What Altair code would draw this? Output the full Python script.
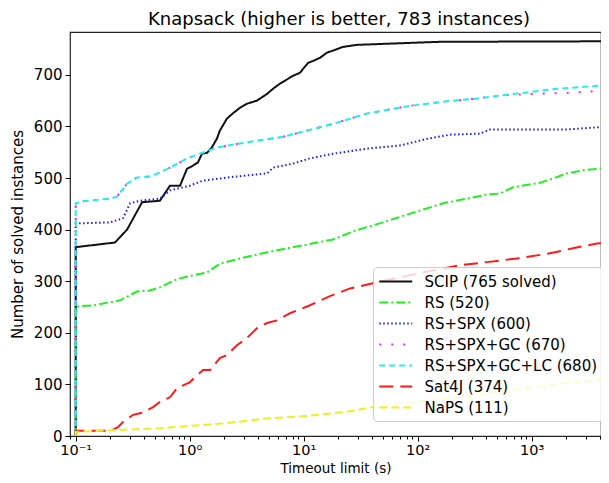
import altair as alt
import pandas as pd

series_names = ["SCIP (765 solved)", "RS (520)", "RS+SPX (600)", "RS+SPX+GC (670)",
                "RS+SPX+GC+LC (680)", "Sat4J (374)", "NaPS (111)"]
colors = ["#111111", "#22ee22", "#1a1aff", "#ff22ff", "#22eeee", "#ff1a1a", "#eeee22"]
dashes = [[1, 0], [9, 3, 2, 3], [1.5, 2.5], [2, 10], [6, 4], [14, 7], [8, 4]]

scip_t = [0.1, 0.1, 0.221, 0.282, 0.382, 0.548, 0.671, 0.822, 0.947, 1.03, 1.18, 1.28, 1.42, 1.56,
          1.73, 1.84, 2.12, 2.44, 2.76, 3.18, 3.89, 4.77, 5.38, 6.2, 8.05, 9.27, 10.9, 12.1, 13.9,
          16.0, 18.1, 22, 29, 50, 157, 4718]
scip_v = [0, 366, 375, 400, 453, 456, 485, 485, 518, 522, 530, 547, 549, 559,
          576, 592, 615, 627, 636, 644, 650, 663, 673, 683, 698, 704, 723, 727, 733,
          743, 747, 754, 758, 760, 764, 765]

rs_t = [0.1, 0.1, 0.142, 0.245, 0.345, 0.449, 0.548, 0.774, 1.0, 1.42, 1.84, 2.76, 4.77, 8.05,
        10.7, 18.1, 28.2, 49.6, 85.7, 105, 167, 271, 405, 527, 686, 1183, 1540, 2042, 2816, 4718]
rs_v = [0, 251, 253, 263, 280, 282, 288, 304, 310, 317, 334, 344, 356, 366,
        371, 381, 398, 414, 431, 437, 451, 460, 468, 470, 482, 491, 499, 509, 515, 520]

spx_t = [0.1, 0.1, 0.2, 0.26, 0.30, 0.367, 0.548, 0.671, 1.0, 1.31, 2.12, 3.18, 4.77, 5.38, 8.05,
         11.3, 18.1, 35.9, 70, 121, 192, 352, 431, 2042, 4718]
spx_v = [0, 412, 414, 422, 451, 456, 460, 476, 485, 495, 501, 505, 509, 520, 528,
         538, 547, 557, 563, 576, 584, 586, 594, 594, 600]

gc_t = [0.1, 0.1, 0.116, 0.2, 0.23, 0.282, 0.345, 0.449, 0.548, 0.671, 0.947, 1.23, 1.73, 2.76,
        4.14, 6.58, 9.86, 18.1, 35.9, 85.7, 167, 331, 527, 1027, 2042, 4140, 4718]
gc_v = [0, 451, 455, 460, 464, 489, 501, 503, 511, 520, 538, 547, 559, 567,
        573, 580, 590, 605, 625, 640, 648, 654, 660, 663, 665, 669, 670]

lc_t = [0.1, 0.1, 0.116, 0.2, 0.23, 0.282, 0.345, 0.449, 0.548, 0.671, 0.947, 1.23, 1.73, 2.76,
        4.14, 6.58, 9.86, 18.1, 35.9, 85.7, 167, 331, 527, 839, 1668, 3975, 4718]
lc_v = [0, 451, 455, 460, 464, 489, 501, 503, 511, 520, 538, 547, 559, 567,
        573, 580, 590, 605, 625, 640, 648, 654, 660, 665, 673, 679, 680]

sat_t = [0.1, 0.1, 0.181, 0.21, 0.235, 0.26, 0.318, 0.382, 0.477, 0.548, 0.671, 0.774, 1.0, 1.31,
         1.51, 1.84, 2.12, 2.60, 3.18, 3.89, 4.77, 5.84, 7.58, 10.7, 17.0, 25.5, 40.5, 70, 136,
         235, 405, 743, 1448, 2303, 3740, 4718]
sat_v = [0, 10, 10, 12, 17, 27, 41, 45, 56, 66, 75, 93, 104, 128,
         128, 151, 157, 176, 190, 209, 219, 224, 238, 251, 271, 286, 296, 308, 321,
         331, 337, 344, 354, 364, 373, 374]

naps_t = [0.1, 0.1, 0.2, 0.548, 1.07, 2.12, 3.59, 4.77, 10.7, 24.0, 40.5, 91, 250, 686, 1884,
          4580, 4718]
naps_v = [0, 8, 11, 15, 20, 25, 31, 34, 39, 47, 56, 66, 76, 89, 102, 110, 111]

x_major = [0.1, 1, 10, 100, 1000]
x_minor = [0.09, 0.2, 0.3, 0.4, 0.5, 0.6, 0.7, 0.8, 0.9, 2, 3, 4, 5, 6, 7, 8, 9,
           20, 30, 40, 50, 60, 70, 80, 90, 200, 300, 400, 500, 600, 700, 800, 900,
           2000, 3000, 4000]
y_ticks = [0, 100, 200, 300, 400, 500, 600, 700]

all_t = [scip_t, rs_t, spx_t, gc_t, lc_t, sat_t, naps_t]
all_v = [scip_v, rs_v, spx_v, gc_v, lc_v, sat_v, naps_v]
rows = []
for name, ts, vs in zip(series_names, all_t, all_v):
    for i, (t, v) in enumerate(zip(ts, vs)):
        rows.append({"series": name, "t": t, "v": v, "idx": i})
df = pd.DataFrame(rows)

FONT = "DejaVu Sans"
label_expr = ("datum.value == 0.1 ? '10⁻¹' : datum.value == 1 ? '10⁰' : "
              "datum.value == 10 ? '10¹' : datum.value == 100 ? '10²' : "
              "datum.value == 1000 ? '10³' : ''")
major_test = ("datum.value == 0.1 || datum.value == 1 || datum.value == 10 || "
              "datum.value == 100 || datum.value == 1000")

legend = alt.Legend(
    title=None, orient="none", legendX=303, legendY=235,
    labelFont=FONT, labelFontSize=15, labelColor="#000000", labelLimit=400,
    symbolType="M-1,0H3", symbolSize=272, symbolStrokeWidth=2, symbolOpacity=1,
    labelOffset=27.5, padding=5, rowPadding=3,
    strokeColor="#cccccc", fillColor="rgba(255,255,255,0.8)", cornerRadius=4,
)

chart = alt.Chart(df).mark_line(strokeWidth=2, clip=True).encode(
    x=alt.X("t:Q",
            scale=alt.Scale(type="log", domain=[0.0891, 4055], nice=False),
            axis=alt.Axis(values=x_major + x_minor, labelExpr=label_expr,
                          tickSize={"condition": {"test": major_test, "value": 5}, "value": 3},
                          labelFont=FONT, labelFontSize=14.5, labelColor="#000000",
                          labelPadding=2, grid=False, domain=False, tickColor="#000000",
                          labelFlush=False, labelOverlap=False,
                          title="Timeout limit (s)", titleFont=FONT, titleFontSize=13.5,
                          titleFontWeight="normal", titleColor="#000000",
                          titleY=36, titleBaseline="alphabetic")),
    y=alt.Y("v:Q",
            scale=alt.Scale(domain=[0, 783], nice=False, zero=True),
            axis=alt.Axis(values=y_ticks, tickSize=5, labelFont=FONT, labelFontSize=15,
                          labelColor="#000000", labelPadding=3, grid=False, domain=False,
                          tickColor="#000000", labelFlush=False,
                          title="Number of solved instances", titleFont=FONT, titleFontSize=15,
                          titleFontWeight="normal", titleColor="#000000", titlePadding=8)),
    color=alt.Color("series:N", scale=alt.Scale(domain=series_names, range=colors), legend=legend),
    strokeDash=alt.StrokeDash("series:N", scale=alt.Scale(domain=series_names, range=dashes), legend=legend),
    order=alt.Order("idx:Q"),
).properties(
    width=531, height=404,
    padding={"left": 62, "top": 24, "right": 0, "bottom": 39},
    autosize=alt.AutoSizeParams(type="none"),
    title=alt.TitleParams("Knapsack (higher is better, 783 instances)", font=FONT, fontSize=18,
                          fontWeight="normal", color="#000000", anchor="middle",
                          offset=3, dx=3.5),
).configure_view(stroke="#222222", strokeWidth=1.2)

chart.save("out.html", embed_options={"renderer": "svg", "actions": False})
